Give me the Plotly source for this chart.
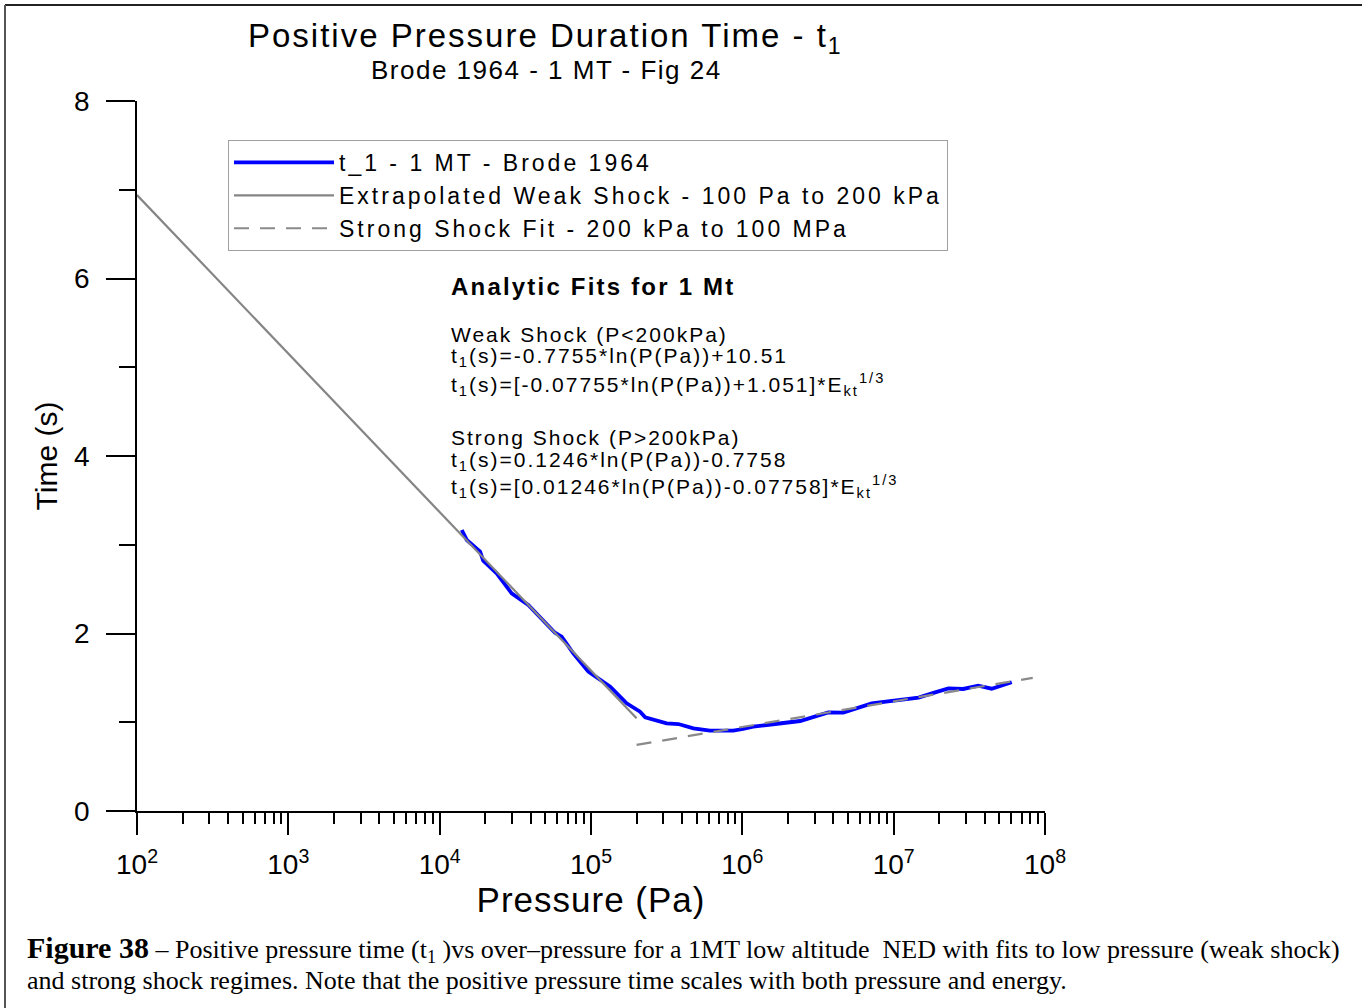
import plotly.graph_objects as go

# ---- data ----
brode_pressure = [1.40e4, 1.51e4, 1.85e4, 1.94e4, 2.38e4, 2.99e4, 3.85e4, 4.49e4, 5.78e4,
                  6.40e4, 7.64e4, 9.60e4, 1.34e5, 1.72e5, 2.11e5, 2.28e5, 3.16e5, 3.78e5,
                  4.75e5, 6.11e5, 8.71e5, 1.01e6, 1.18e6, 1.45e6, 2.41e6, 3.70e6, 4.65e6,
                  7.16e6, 9.46e6, 1.46e7, 1.88e7, 2.30e7, 2.88e7, 3.62e7, 4.44e7, 5.18e7, 6.03e7]
brode_time = [3.166, 3.054, 2.922, 2.820, 2.678, 2.453, 2.321, 2.208, 2.009,
              1.964, 1.777, 1.570, 1.401, 1.213, 1.119, 1.056, 0.988, 0.980,
              0.931, 0.905, 0.905, 0.924, 0.950, 0.969, 1.014, 1.112, 1.108,
              1.213, 1.239, 1.277, 1.337, 1.382, 1.375, 1.412, 1.378, 1.420, 1.450]

weak_pressure = [1e2, 2e5]
weak_time = [6.94, 1.044]

strong_pressure = [2e5, 8.3e7]
strong_time = [0.745, 1.50]

x_tick_vals = [1e2, 1e3, 1e4, 1e5, 1e6, 1e7, 1e8]
x_tick_text = ["10<sup>2</sup>", "10<sup>3</sup>", "10<sup>4</sup>", "10<sup>5</sup>",
               "10<sup>6</sup>", "10<sup>7</sup>", "10<sup>8</sup>"]
y_tick_vals = [0, 2, 4, 6, 8]

SANS = "Liberation Sans, Arial, sans-serif"
SERIF = "Liberation Serif, Times New Roman, serif"

# plot area in pixels
W, H = 1362, 1008
L, R, T, B = 137, 1045, 101, 811


def px(x):
    return (x - L) / (R - L)


def py(y):
    return (B - y) / (B - T)


def spaced(txt, ls):
    return "<span style='letter-spacing:%spx'>%s</span>" % (ls, txt)


fig = go.Figure()
fig.add_trace(go.Scatter(x=brode_pressure, y=brode_time, mode="lines",
                         name=spaced("t_1 - 1 MT - Brode 1964", 3),
                         line=dict(color="#0000ff", width=3.8)))
fig.add_trace(go.Scatter(x=weak_pressure, y=weak_time, mode="lines",
                         name=spaced("Extrapolated Weak Shock - 100 Pa to 200 kPa", 3),
                         line=dict(color="#858585", width=2.2)))
fig.add_trace(go.Scatter(x=strong_pressure, y=strong_time, mode="lines",
                         name=spaced("Strong Shock Fit - 200 kPa to 100 MPa", 3),
                         line=dict(color="#8a8a8a", width=2.2, dash="15px,11px")))

minor_x = [m * 10 ** e for e in range(2, 8) for m in range(2, 10)]

fig.update_xaxes(type="log", range=[2, 8], showgrid=False, zeroline=False,
                 showline=True, linecolor="black", linewidth=1.5,
                 ticks="outside", ticklen=22, tickwidth=2, tickcolor="black",
                 tickvals=x_tick_vals, ticktext=x_tick_text,
                 tickfont=dict(family=SANS, size=28, color="black"),
                 ticklabelstandoff=6,
                 minor=dict(ticks="outside", ticklen=11, tickwidth=2, tickcolor="black",
                            tickvals=minor_x, showgrid=False),
                 title=dict(text=spaced("Pressure (Pa)", 1),
                            font=dict(family=SANS, size=35, color="black"),
                            standoff=0))
fig.update_yaxes(range=[0, 8], showgrid=False, zeroline=False,
                 showline=True, linecolor="black", linewidth=1.5,
                 ticks="outside", ticklen=29, tickwidth=1.5, tickcolor="black",
                 tickvals=y_tick_vals,
                 tickfont=dict(family=SANS, size=28, color="black"),
                 ticklabelstandoff=11,
                 minor=dict(ticks="outside", ticklen=16, tickwidth=1.5, tickcolor="black",
                            dtick=1, showgrid=False),
                 title=dict(text="Time (s)", font=dict(family=SANS, size=30, color="black"),
                            standoff=8))

annotations = []
annotations.append(dict(x=px(545), y=py(38),
                        text=spaced("Positive Pressure Duration Time - t<sub>1</sub>", 2),
                        font=dict(family=SANS, size=33, color="black")))
annotations.append(dict(x=px(546), y=py(70), text=spaced("Brode 1964 - 1 MT - Fig 24", 1.5),
                        font=dict(family=SANS, size=26, color="black")))

fit_lines = [
    (286, "<b>Analytic Fits for 1 Mt</b>", 24, 2.2),
    (334, "Weak Shock (P&lt;200kPa)", 21, 2.0),
    (357, "t<sub>1</sub>(s)=-0.7755*ln(P(Pa))+10.51", 21, 2.0),
    (384, "t<sub>1</sub>(s)=[-0.07755*ln(P(Pa))+1.051]*E<sub>kt</sub><sup>1/3</sup>", 21, 2.0),
    (437, "Strong Shock (P&gt;200kPa)", 21, 2.0),
    (461, "t<sub>1</sub>(s)=0.1246*ln(P(Pa))-0.7758", 21, 2.0),
    (487, "t<sub>1</sub>(s)=[0.01246*ln(P(Pa))-0.07758]*E<sub>kt</sub><sup>1/3</sup>", 21, 2.0),
]
for yy, txt, sz, ls in fit_lines:
    annotations.append(dict(x=px(449), y=py(yy), text=spaced(txt, ls), xanchor="left",
                            font=dict(family=SANS, size=sz, color="black")))

caption_lines = [
    (949, "<b><span style='font-size:30px'>Figure 38</span></b> – Positive pressure time (t<sub>1</sub> )vs "
          "over–pressure for a 1MT low altitude  NED with fits to low pressure (weak shock)"),
    (981, "and strong shock regimes. Note that the positive pressure time scales with both pressure and energy."),
]
for yy, txt in caption_lines:
    annotations.append(dict(x=px(25), y=py(yy), xanchor="left", align="left", text=txt,
                            font=dict(family=SERIF, size=26, color="black")))

for a in annotations:
    a.setdefault("xref", "paper")
    a.setdefault("yref", "paper")
    a.setdefault("showarrow", False)
    a.setdefault("xanchor", "center")
    a.setdefault("yanchor", "middle")

shapes = [
    dict(type="line", xref="paper", yref="paper", x0=px(5), x1=px(1362), y0=py(5), y1=py(5),
         line=dict(color="#222222", width=2)),
    dict(type="line", xref="paper", yref="paper", x0=px(5), x1=px(5), y0=py(5), y1=py(1008),
         line=dict(color="#555555", width=2)),
]

fig.update_layout(
    width=W, height=H,
    margin=dict(l=L, r=W - R, t=T, b=H - B, pad=0),
    paper_bgcolor="white", plot_bgcolor="white",
    showlegend=True,
    legend=dict(x=px(228), y=py(140), xanchor="left", yanchor="top",
                bordercolor="#a0a0a0", borderwidth=1, bgcolor="white",
                font=dict(family=SANS, size=23, color="black"),
                itemwidth=100, tracegroupgap=0),
    annotations=annotations,
    shapes=shapes,
)

fig.write_html("out.html", config={"displayModeBar": False},
               post_script="document.body.style.margin='0px';")
